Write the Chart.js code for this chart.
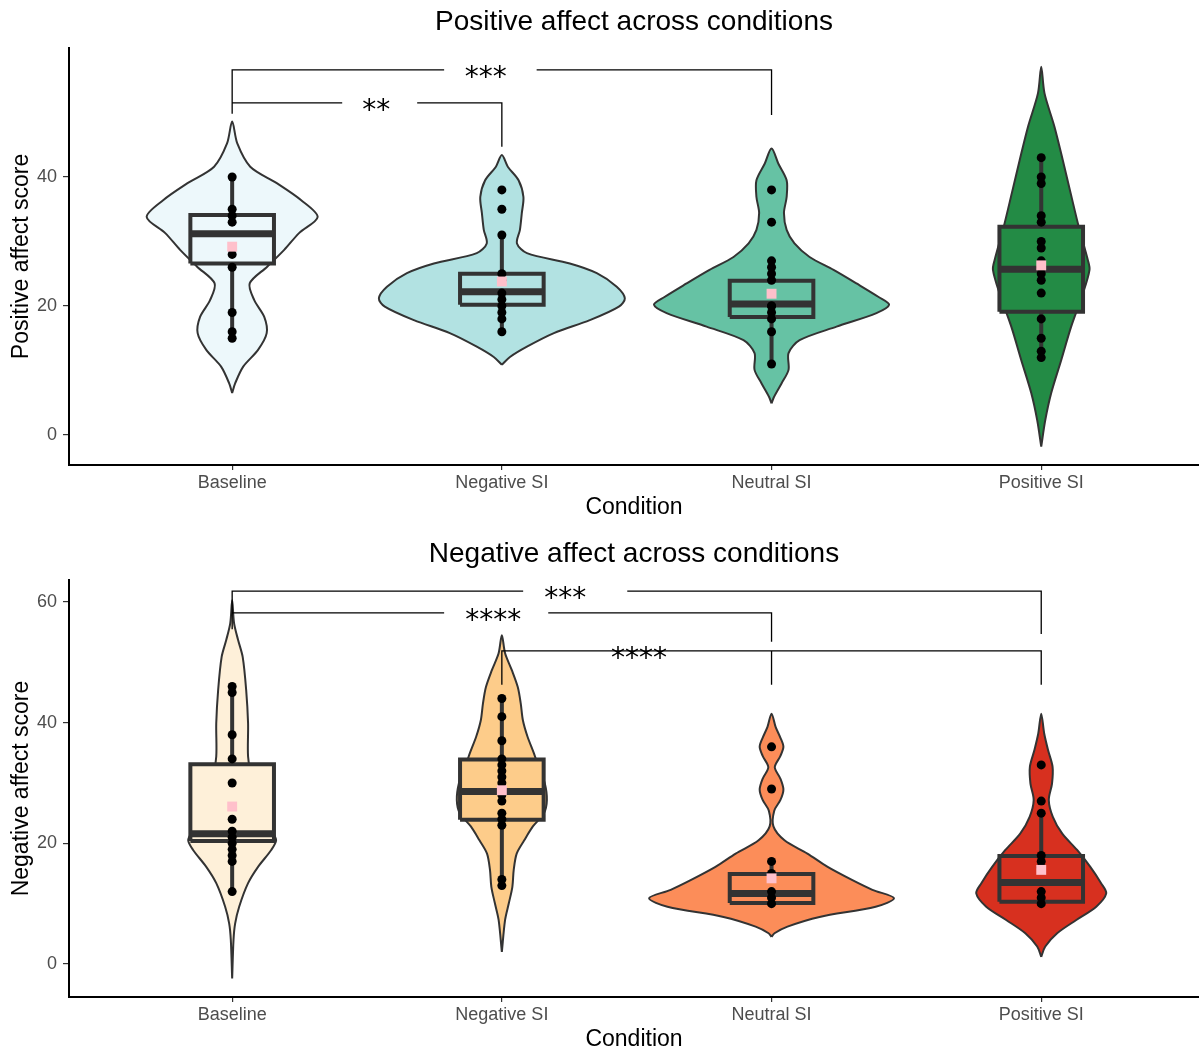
<!DOCTYPE html>
<html>
<head>
<meta charset="utf-8">
<title>Affect across conditions</title>
<script src="https://cdn.jsdelivr.net/npm/chart.js@4.4.1/dist/chart.umd.min.js"></script>
<style>
  html, body { margin: 0; padding: 0; background: #fff; overflow: hidden; }
  #wrap { position: relative; width: 1199px; height: 1050px; }
  canvas { position: absolute; left: 0; }
  #posChart { top: 0; }
  #negChart { top: 525px; }
</style>
</head>
<body>
<div id="wrap">
  <canvas id="posChart" width="1199" height="525"></canvas>
  <canvas id="negChart" width="1199" height="530"></canvas>
</div>
<script>
// ---- data ----
const categories = ['Baseline', 'Negative SI', 'Neutral SI', 'Positive SI'];

// Positive affect: violin outline (score levels, half-widths in category units)
const posBaselineY = [48.6, 45.2, 41.6, 39.0, 36.4, 33.8, 31.3, 28.7, 26.1, 23.5, 20.9, 18.3, 15.8, 13.2, 10.6, 8.0, 6.5];
const posBaselineW = [0, .019, .067, .167, .256, .317, .248, .193, .130, .065, .082, .119, .128, .096, .041, .011, 0];
const posNegativeY = [43.4, 41.6, 39.5, 36.9, 34.4, 31.8, 29.7, 28.2, 26.6, 25.1, 23.0, 21.2, 19.9, 17.8, 15.8, 13.7, 12.1, 10.9];
const posNegativeW = [0, .022, .062, .080, .074, .067, .056, .093, .252, .352, .426, .456, .434, .326, .193, .093, .030, 0];
const posNeutralY = [44.4, 42.1, 39.5, 36.9, 34.4, 31.8, 29.7, 27.6, 25.6, 23.5, 21.4, 20.2, 18.9, 16.8, 14.7, 12.7, 10.1, 8.0, 5.9, 4.9];
const posNeutralW = [0, .025, .056, .056, .046, .056, .085, .141, .230, .315, .397, .436, .389, .241, .104, .063, .063, .037, .009, 0];
const posPositiveY = [57.1, 53.0, 47.8, 42.6, 37.5, 32.3, 27.1, 25.6, 22.0, 16.8, 11.6, 6.5, 2.3, -1.8];
const posPositiveW = [0, .012, .049, .080, .109, .139, .173, .179, .155, .111, .074, .037, .015, 0];

// Positive affect: individual scores
const posBaselineScores = [40, 35, 34, 33, 28, 26, 19, 16, 15];
const posNegativeScores = [38, 35, 31, 25, 24, 22, 21, 20, 19, 18, 16];
const posNeutralScores = [38, 33, 27, 26, 25, 24, 20, 20, 19, 18, 16, 11];
const posPositiveScores = [43, 40, 39, 34, 33, 30, 29, 27, 26, 25, 24, 22, 18, 15, 13, 12];

// Positive affect: box stats and means
const posQ1 = [26.6, 20.2, 18.3, 19.1];
const posMedian = [31.2, 22.2, 20.3, 25.7];
const posQ3 = [34.1, 25.0, 23.9, 32.3];
const posLow = [15, 16, 11, 12];
const posHigh = [40, 31, 27, 43];
const posMean = [29.2, 23.8, 21.9, 26.3];

// Positive affect: significance brackets
const posSigFrom = [1, 1];
const posSigTo = [3, 2];
const posSigY = [56.6, 51.5];
const posSigTipFrom = [51.5, 49.8];
const posSigTipTo = [49.6, 44.7];
const posSigLabel = ['***', '**'];
const posSigLabelX = [1.940, 1.534];
const posSigGapStart = [1.786, 1.408];
const posSigGapEnd = [2.129, 1.686];

// Negative affect: violin outline
const negBaselineY = [60.3, 56.5, 53.7, 50.9, 45.4, 39.9, 34.4, 30.0, 25.0, 22.0, 20.5, 18.9, 16.1, 13.4, 9.5, 6.7, 4.0, -2.4];
const negBaselineW = [0, .007, .022, .039, .052, .059, .059, .074, .111, .148, .163, .145, .096, .059, .026, .011, .005, 0];
const negNegativeY = [54.5, 51.5, 48.7, 45.9, 43.2, 40.4, 37.7, 34.9, 32.0, 30.0, 27.2, 25.0, 22.8, 20.5, 18.3, 15.6, 12.8, 10.1, 7.3, 2.0];
const negNegativeW = [0, .012, .037, .059, .070, .078, .095, .119, .141, .159, .167, .156, .115, .083, .055, .044, .039, .026, .012, 0];
const negNeutralY = [41.5, 39.3, 37.5, 36.0, 34.5, 32.6, 30.7, 28.9, 27.2, 25.4, 22.8, 20.5, 18.3, 16.1, 13.9, 12.3, 10.9, 9.5, 7.8, 6.2, 5.1, 4.5];
const negNeutralW = [0, .015, .033, .044, .033, .012, .033, .044, .033, .010, .007, .048, .133, .208, .300, .374, .454, .386, .178, .059, .011, 0];
const negPositiveY = [41.5, 38.2, 35.5, 32.7, 29.9, 27.2, 24.4, 21.6, 18.9, 16.1, 13.4, 11.7, 9.5, 7.3, 5.1, 2.9, 1.2];
const negPositiveW = [0, .011, .025, .042, .040, .028, .043, .078, .133, .182, .222, .241, .204, .130, .059, .015, 0];

// Negative affect: individual scores
const negBaselineScores = [46, 45, 38, 34, 30, 24, 22, 21, 20, 19, 18, 17, 12];
const negNegativeScores = [44, 41, 37, 34, 33, 32, 31, 30, 28, 27, 25, 24, 23, 14, 13];
const negNeutralScores = [36, 29, 17, 15, 12, 11, 10];
const negPositiveScores = [33, 27, 25, 18, 17, 16, 12, 11, 10];

// Negative affect: box stats and means
const negQ1 = [20.4, 23.9, 10.1, 10.3];
const negMedian = [21.6, 28.6, 11.7, 13.5];
const negQ3 = [33.1, 33.9, 14.9, 17.9];
const negLow = [12, 13, 10, 10];
const negHigh = [46, 44, 17, 25];
const negMean = [26.1, 28.8, 14.2, 15.6];

// Negative affect: significance brackets
const negSigFrom = [1, 1, 2, 2];
const negSigTo = [4, 3, 3, 4];
const negSigY = [61.8, 58.2, 51.9, 51.9];
const negSigTipFrom = [58.2, 55.5, 46.3, 46.3];
const negSigTipTo = [54.7, 53.4, 46.3, 46.3];
const negSigLabel = ['***', '****', '****', ''];
const negSigLabelX = [2.235, 1.968, 2.509, null];
const negSigGapStart = [2.079, 1.786, 2.327, null];
const negSigGapEnd = [2.465, 2.172, 2.713, null];

const posTicks = [0, 20, 40];
const negTicks = [0, 20, 40, 60];

const posColors = ['#edf8fb', '#b2e2e2', '#66c2a4', '#238b45'];
const negColors = ['#fef0d9', '#fdcc8a', '#fc8d59', '#d7301f'];

// ---- helpers ----
const FONT = '"Liberation Sans", Arial, Helvetica, sans-serif';
const OUTLINE = '#333333';
const BOX_HALF = 0.155;

Chart.defaults.font.family = FONT;

function violinPoints(center, ys, ws) {
    const right = ys.map((y, i) => ({ x: center + ws[i], y })).reverse();
    const left = ys.slice(1).map((y, i) => ({ x: center - ws[i + 1], y }));
    return right.concat(left);
}

function buildDatasets(violins, scores, colors, q1, med, q3, lo, hi, mean, sig) {
    const ds = [];

    violins.forEach((v, i) => {
        ds.push({
            data: violinPoints(i + 1, v[0], v[1]),
            showLine: true, fill: 'shape', tension: 0.3,
            backgroundColor: colors[i], borderColor: OUTLINE, borderWidth: 2,
            pointRadius: 0, order: 6
        });
    });

    colors.forEach((c, i) => {
        const x = i + 1;
        ds.push({
            data: [
                { x: x - BOX_HALF, y: q1[i] }, { x: x + BOX_HALF, y: q1[i] },
                { x: x + BOX_HALF, y: q3[i] }, { x: x - BOX_HALF, y: q3[i] },
                { x: x - BOX_HALF, y: q1[i] }
            ],
            showLine: true, fill: 'shape', tension: 0,
            backgroundColor: c, borderColor: OUTLINE, borderWidth: 4,
            borderJoinStyle: 'miter', pointRadius: 0, order: 5
        });
    });

    // medians
    const medData = [];
    med.forEach((m, i) => {
        medData.push({ x: i + 1 - BOX_HALF, y: m }, { x: i + 1 + BOX_HALF, y: m }, { x: i + 1, y: null });
    });
    ds.push({ data: medData, showLine: true, tension: 0, borderColor: OUTLINE, borderWidth: 7,
        borderCapStyle: 'butt', pointRadius: 0, spanGaps: false, order: 4 });

    // whiskers
    const whData = [];
    hi.forEach((h, i) => {
        const x = i + 1;
        whData.push({ x, y: h }, { x, y: q3[i] }, { x, y: null });
        whData.push({ x, y: q1[i] }, { x, y: lo[i] }, { x, y: null });
    });
    ds.push({ data: whData, showLine: true, tension: 0, borderColor: OUTLINE, borderWidth: 4,
        borderCapStyle: 'butt', pointRadius: 0, spanGaps: false, order: 3 });

    // individual scores
    const pts = [];
    scores.forEach((arr, i) => arr.forEach(s => pts.push({ x: i + 1, y: s })));
    ds.push({ data: pts, showLine: false, pointRadius: 4.5, backgroundColor: '#000',
        borderWidth: 0, order: 2 });

    // means
    ds.push({ data: mean.map((m, i) => ({ x: i + 1, y: m })), showLine: false,
        pointStyle: 'rect', pointRadius: 7, backgroundColor: '#ffc0cb', borderWidth: 0, order: 1 });

    // significance brackets
    const brData = [];
    sig.from.forEach((f, i) => {
        const t = sig.to[i], y = sig.y[i];
        brData.push({ x: f, y: sig.tipFrom[i] }, { x: f, y });
        if (sig.gapStart[i] != null) {
            brData.push({ x: sig.gapStart[i], y }, { x: sig.gapStart[i], y: null }, { x: sig.gapEnd[i], y });
        }
        brData.push({ x: t, y }, { x: t, y: sig.tipTo[i] }, { x: t, y: null });
    });
    ds.push({ data: brData, showLine: true, tension: 0, borderColor: '#000', borderWidth: 1.3,
        pointRadius: 0, spanGaps: false, order: 0 });

    return ds;
}

const sigLabelPlugin = {
    id: 'sigLabels',
    afterDatasetsDraw(chart, args, opts) {
        const { ctx, scales } = chart;
        ctx.save();
        ctx.font = '28px "DejaVu Sans", sans-serif';
        ctx.fillStyle = '#000';
        ctx.textAlign = 'center';
        ctx.textBaseline = 'alphabetic';
        opts.labels.forEach((lab, i) => {
            if (!lab) return;
            const px = scales.x.getPixelForValue(opts.xs[i]);
            const py = scales.y.getPixelForValue(opts.ys[i]);
            ctx.fillText(lab, px, py + 16);
        });
        ctx.restore();
    }
};

function makeChart(id, cfg) {
    return new Chart(document.getElementById(id), {
        type: 'scatter',
        data: { datasets: cfg.datasets },
        plugins: [sigLabelPlugin],
        options: {
            responsive: false,
            animation: false,
            events: [],
            layout: { padding: 0, autoPadding: false },
            plugins: {
                legend: { display: false },
                tooltip: { enabled: false },
                title: {
                    display: true, text: cfg.title, color: '#000', fullSize: false,
                    font: { size: 28, weight: 'normal', family: FONT },
                    padding: cfg.titlePadding
                },
                sigLabels: { labels: cfg.sig.label, xs: cfg.sig.labelX, ys: cfg.sig.y }
            },
            scales: {
                x: {
                    type: 'linear', min: 0.395, max: 4.585,
                    afterBuildTicks: s => { s.ticks = categories.map((c, i) => ({ value: i + 1 })); },
                    afterFit: s => { s.height = cfg.xHeight; s.paddingLeft = 0; s.paddingRight = 0; },
                    ticks: {
                        callback: v => categories[Math.round(v) - 1],
                        color: '#4d4d4d', font: { size: 18, family: FONT },
                        padding: 2, maxRotation: 0, autoSkip: false
                    },
                    grid: { drawOnChartArea: false, tickLength: 5, color: '#333', lineWidth: 1.2 },
                    border: { color: '#000', width: 2 },
                    title: {
                        display: true, text: 'Condition', color: '#000',
                        font: { size: 23, family: FONT }, padding: { top: 0, bottom: cfg.xTitleBottom }
                    }
                },
                y: {
                    type: 'linear', min: cfg.yMin, max: cfg.yMax,
                    afterBuildTicks: s => { s.ticks = cfg.yTicks.map(v => ({ value: v })); },
                    afterFit: s => { s.width = 69; s.paddingTop = 0; s.paddingBottom = 0; },
                    ticks: { color: '#4d4d4d', font: { size: 18, family: FONT }, padding: 6 },
                    grid: { drawOnChartArea: false, tickLength: 6, color: '#333', lineWidth: 1.2 },
                    border: { color: '#000', width: 2 },
                    title: {
                        display: true, text: cfg.yTitle, color: '#000',
                        font: { size: 23, family: FONT }, padding: { top: 8, bottom: 0 }
                    }
                }
            }
        }
    });
}

const posSig = { from: posSigFrom, to: posSigTo, y: posSigY, tipFrom: posSigTipFrom, tipTo: posSigTipTo,
    label: posSigLabel, labelX: posSigLabelX, gapStart: posSigGapStart, gapEnd: posSigGapEnd };
const negSig = { from: negSigFrom, to: negSigTo, y: negSigY, tipFrom: negSigTipFrom, tipTo: negSigTipTo,
    label: negSigLabel, labelX: negSigLabelX, gapStart: negSigGapStart, gapEnd: negSigGapEnd };

makeChart('posChart', {
    title: 'Positive affect across conditions',
    titlePadding: { top: 5.2, bottom: 9.2 },
    yTitle: 'Positive affect score',
    yMin: -4.65, yMax: 60, yTicks: posTicks,
    xHeight: 60, xTitleBottom: 4,
    sig: posSig,
    datasets: buildDatasets(
        [[posBaselineY, posBaselineW], [posNegativeY, posNegativeW], [posNeutralY, posNeutralW], [posPositiveY, posPositiveW]],
        [posBaselineScores, posNegativeScores, posNeutralScores, posPositiveScores],
        posColors, posQ1, posMedian, posQ3, posLow, posHigh, posMean, posSig)
});

makeChart('negChart', {
    title: 'Negative affect across conditions',
    titlePadding: { top: 12.2, bottom: 9.2 },
    yTitle: 'Negative affect score',
    yMin: -5.47, yMax: 63.65, yTicks: negTicks,
    xHeight: 58, xTitleBottom: 2,
    sig: negSig,
    datasets: buildDatasets(
        [[negBaselineY, negBaselineW], [negNegativeY, negNegativeW], [negNeutralY, negNeutralW], [negPositiveY, negPositiveW]],
        [negBaselineScores, negNegativeScores, negNeutralScores, negPositiveScores],
        negColors, negQ1, negMedian, negQ3, negLow, negHigh, negMean, negSig)
});
</script>
</body>
</html>
